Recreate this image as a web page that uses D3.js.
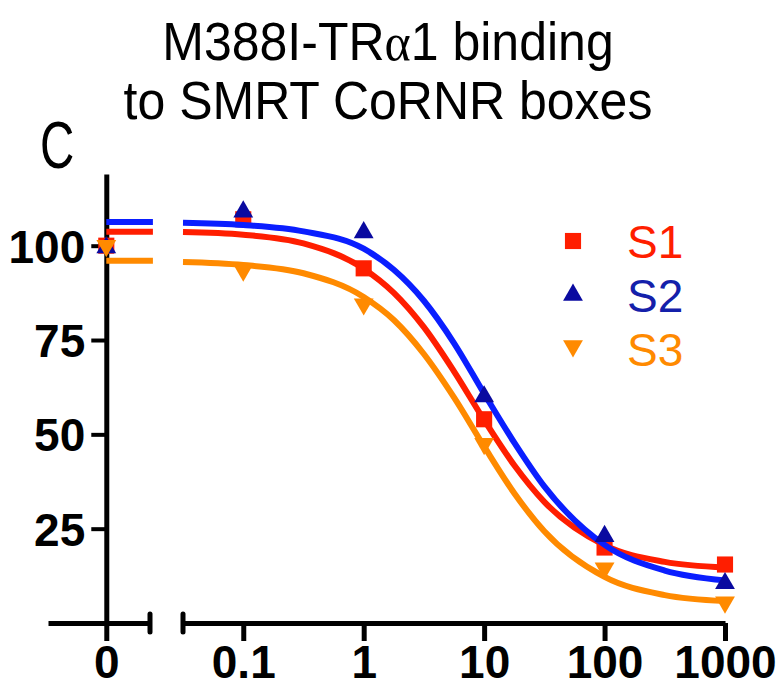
<!DOCTYPE html>
<html>
<head>
<meta charset="utf-8">
<script src="https://cdn.jsdelivr.net/npm/d3@7"></script>
<style>
  body { margin: 0; background: #fff; }
  svg { display: block; font-family: "Liberation Sans", Arial, sans-serif; }
</style>
</head>
<body>
<div id="chart"></div>
<script>
// Measured points
const seriesNames = ["S1", "S2", "S3"];
const doseLevels = [0, 0.1, 1, 10, 100, 1000];
const s1Values = [100, 107, 94, 54, 20, 15.5];
const s2Values = [99.5, 109, 103.5, 60, 23, 10.5];
const s3Values = [100, 93.5, 84.5, 47.5, 14.5, 5.5];

// Fitted curves
const fitDoses = [0.0316, 0.1, 0.316, 1, 1.78, 3.16, 5.62, 10, 17.8, 31.6, 100, 316, 1000];
const s1Fit = [103.6, 102.9, 100.6, 93.9, 87.5, 78.4, 66.7, 53.8, 41.8, 32.1, 20.6, 16.2, 14.7];
const s2Fit = [106.1, 105.5, 103.8, 99.2, 93.6, 85.4, 74.2, 60.8, 47.8, 36.2, 20.7, 13.9, 11.3];
const s3Fit = [95.7, 94.9, 92.7, 86.4, 80.3, 71.3, 59.8, 46.8, 34.4, 24.3, 12.2, 7.4, 5.8];
const fitZeroLevel = [103.7, 106.3, 96]; // fitted level drawn over the "0" segment

const xTickValues = [0.1, 1, 10, 100, 1000];
const xTickLabels = ["0.1", "1", "10", "100", "1000"];
const yTickValues = [25, 50, 75, 100];

const width = 783, height = 692;
const svg = d3.select("#chart").append("svg")
  .attr("width", width).attr("height", height);

// Scales: a short linear segment for 0, then a log segment
const xZero = d3.scaleLinear().domain([-1, 0.75]).range([48, 150]);
const xLog = d3.scaleLog().domain([0.0316, 1000]).range([183, 725]);
const y = d3.scaleLinear().domain([0, 119]).range([623, 174]);

const colors = ["#ff1e00", "#0a1eff", "#ff8a00"];
const markerColors = ["#ff1e00", "#0a0aa0", "#ff8a00"];
const labelColors = ["#ff1e00", "#1420aa", "#ff8a00"];
const symbols = [
  d3.symbol().type(d3.symbolSquare).size(260),
  d3.symbol().type(d3.symbolTriangle).size(170),
  d3.symbol().type(d3.symbolTriangle).size(170),
];
const rotations = [0, 0, 180];

const xPos = (d) => (d === 0 ? xZero(0) : xLog(d));

// Title
const title = svg.append("text")
  .attr("text-anchor", "middle")
  .attr("font-size", 50)
  .attr("fill", "#000")
  .attr("transform", "translate(388,0) scale(1,1.06)");
const t1 = title.append("tspan").attr("x", 0).attr("y", 57);
t1.append("tspan").text("M388I-TR");
t1.append("tspan").attr("font-family", "'Liberation Serif', serif").text("\u03b1");
t1.append("tspan").text("1 binding");
title.append("tspan").attr("x", 0).attr("y", 112).text("to SMRT CoRNR boxes");

// Panel letter
svg.append("text")
  .attr("transform", "translate(40,168) scale(0.72,1)")
  .attr("font-size", 66)
  .attr("fill", "#000")
  .text("C");

// Y axis
const yAxis = svg.append("g")
  .attr("transform", `translate(${xZero(0)},0)`)
  .call(d3.axisLeft(y).tickValues(yTickValues).tickSize(15).tickSizeOuter(0).tickPadding(6));
yAxis.select(".domain").attr("stroke-width", 5);
yAxis.selectAll(".tick line").attr("stroke-width", 4);
yAxis.selectAll(".tick text")
  .attr("font-size", 46).attr("font-weight", "bold")
  .attr("font-family", "'Liberation Sans', Arial, sans-serif")
  .attr("dy", "0.36em");

// X axis, zero segment
const xAxisZero = svg.append("g")
  .attr("transform", `translate(0,${y(0)})`)
  .call(d3.axisBottom(xZero).tickValues([0]).tickFormat(() => "0").tickSize(18).tickSizeOuter(0).tickPadding(4));
xAxisZero.select(".domain").attr("stroke-width", 5);

// X axis, log segment
const xAxisLog = svg.append("g")
  .attr("transform", `translate(0,${y(0)})`)
  .call(d3.axisBottom(xLog).tickValues(xTickValues)
    .tickFormat((d, i) => xTickLabels[i]).tickSize(18).tickSizeOuter(0).tickPadding(4));
xAxisLog.select(".domain").attr("stroke-width", 5);

[xAxisZero, xAxisLog].forEach((ax) => {
  ax.selectAll(".tick line").attr("stroke-width", 5);
  ax.selectAll(".tick text")
    .attr("font-size", 46).attr("font-weight", "bold")
    .attr("font-family", "'Liberation Sans', Arial, sans-serif");
});

// Break marks on both sides of the gap
[xZero.range()[1], xLog.range()[0]].forEach((bx) => {
  svg.append("line")
    .attr("x1", bx).attr("x2", bx)
    .attr("y1", y(0) - 9).attr("y2", y(0) + 9)
    .attr("stroke", "#000").attr("stroke-width", 5).attr("stroke-linecap", "round");
});

// Curves and markers
const fits = [s1Fit, s2Fit, s3Fit];
const values = [s1Values, s2Values, s3Values];
const line = d3.line().x((d) => xLog(d[0])).y((d) => y(d[1])).curve(d3.curveMonotoneX);

seriesNames.forEach((name, i) => {
  const g = svg.append("g").attr("class", "series");

  // level over the zero segment
  g.append("line")
    .attr("x1", xZero(0)).attr("x2", xZero(0.8))
    .attr("y1", y(fitZeroLevel[i])).attr("y2", y(fitZeroLevel[i]))
    .attr("stroke", colors[i]).attr("stroke-width", 6);

  g.append("path")
    .datum(fitDoses.map((d, k) => [d, fits[i][k]]))
    .attr("d", line)
    .attr("fill", "none")
    .attr("stroke", colors[i])
    .attr("stroke-width", 6);

  g.selectAll("path.pt")
    .data(doseLevels.map((d, k) => [d, values[i][k]]))
    .join("path")
    .attr("class", "pt")
    .attr("d", symbols[i])
    .attr("fill", markerColors[i])
    .attr("transform", (d) => `translate(${xPos(d[0])},${y(d[1])}) rotate(${rotations[i]})`);
});

// Legend
const legend = svg.append("g").attr("transform", "translate(573,0)");
const legendY = [241, 295, 346];
const legendBase = [258, 312, 366];
seriesNames.forEach((name, i) => {
  legend.append("path")
    .attr("d", symbols[i])
    .attr("fill", markerColors[i])
    .attr("transform", `translate(0,${legendY[i]}) rotate(${rotations[i]})`);
  legend.append("text")
    .attr("x", 54).attr("y", legendBase[i])
    .attr("font-size", 46)
    .attr("fill", labelColors[i])
    .text(name);
});
</script>
</body>
</html>
